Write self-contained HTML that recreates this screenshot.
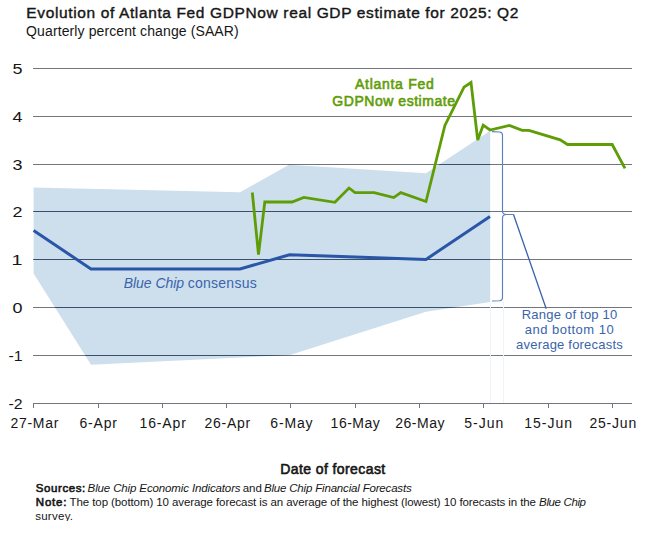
<!DOCTYPE html>
<html><head><meta charset="utf-8">
<style>
html,body{margin:0;padding:0;background:#fff;width:657px;height:534px;overflow:hidden;}
svg{display:block;font-family:"Liberation Sans",sans-serif;}
</style></head>
<body>
<svg width="657" height="534" viewBox="0 0 657 534">
<defs>
<clipPath id="foot"><rect x="0" y="478" width="657" height="43"/></clipPath>
<clipPath id="bandclip"><polygon points="33.6,187.4 240,192.3 289,164.8 426,173.2 490.2,130.8 490.2,302 426,311.8 290,355 91,364.8 33.6,273.5"/></clipPath>
</defs>

<polygon points="33.6,187.4 240,192.3 289,164.8 426,173.2 490.2,130.8 490.2,302 426,311.8 290,355 91,364.8 33.6,273.5" fill="#cddfed"/>
<g stroke="#72757c" stroke-width="1" shape-rendering="crispEdges"><line x1="33" y1="68.5" x2="632" y2="68.5"/><line x1="33" y1="116.5" x2="632" y2="116.5"/><line x1="33" y1="164.5" x2="632" y2="164.5"/><line x1="33" y1="211.5" x2="632" y2="211.5"/><line x1="33" y1="259.5" x2="632" y2="259.5"/><line x1="33" y1="307.5" x2="632" y2="307.5"/><line x1="33" y1="355.5" x2="632" y2="355.5"/><line x1="33" y1="403.5" x2="632" y2="403.5"/><line x1="33.5" y1="403" x2="33.5" y2="408"/><line x1="98.5" y1="403" x2="98.5" y2="408"/><line x1="162.5" y1="403" x2="162.5" y2="408"/><line x1="226.5" y1="403" x2="226.5" y2="408"/><line x1="290.5" y1="403" x2="290.5" y2="408"/><line x1="355.5" y1="403" x2="355.5" y2="408"/><line x1="419.5" y1="403" x2="419.5" y2="408"/><line x1="483.5" y1="403" x2="483.5" y2="408"/><line x1="548.5" y1="403" x2="548.5" y2="408"/><line x1="612.5" y1="403" x2="612.5" y2="408"/></g>
<g stroke="#3a5068" stroke-width="1" shape-rendering="crispEdges" clip-path="url(#bandclip)"><line x1="33" y1="68.5" x2="632" y2="68.5"/><line x1="33" y1="116.5" x2="632" y2="116.5"/><line x1="33" y1="164.5" x2="632" y2="164.5"/><line x1="33" y1="211.5" x2="632" y2="211.5"/><line x1="33" y1="259.5" x2="632" y2="259.5"/><line x1="33" y1="307.5" x2="632" y2="307.5"/><line x1="33" y1="355.5" x2="632" y2="355.5"/><line x1="33" y1="403.5" x2="632" y2="403.5"/></g>
<g stroke="#edf6f6" stroke-width="1" shape-rendering="crispEdges">
<line x1="490.5" y1="303" x2="490.5" y2="403"/>
<line x1="503.5" y1="302" x2="503.5" y2="403"/>
</g>
<polyline points="33.6,230.5 91,269 240,269 289.5,254.7 426,259.4 490,216.5" fill="none" stroke="#2a56a8" stroke-width="3" stroke-linejoin="miter"/>
<polyline points="252.3,192.5 258.5,254.7 264.8,202 292,202 303.8,197.4 334.9,202.3 349,188 355,192.6 374.2,192.6 393.7,197.6 400.8,192.6 426,201.5 444.9,125.4 464,87.2 471,82.5 477.7,140 483.2,125.2 490,130 509.4,125.5 522.2,130.3 528.9,130.3 560.2,139.8 567.5,144.5 612.2,144.5 625,168.4" fill="none" stroke="#5f9d06" stroke-width="2.8" stroke-linejoin="miter" stroke-miterlimit="3"/>
<path d="M492,131.6 L499.5,132 Q502.5,132.2 502.5,135.2 L502.5,211 Q502.5,214.5 506.5,214.5 L513.5,214.5 M506.5,214.5 Q502.5,214.5 502.5,218 L502.5,297.5 Q502.5,300.6 499.5,300.8 L492,301" fill="none" stroke="#5a80bf" stroke-width="1.15"/>
<line x1="513.5" y1="214.5" x2="546.2" y2="308.7" stroke="#3862ac" stroke-width="1.3"/>

<text x="26.30" y="17.90" font-size="15.5" stroke="#161616" stroke-width="0.4" fill="#161616" textLength="492.10" lengthAdjust="spacing">Evolution of Atlanta Fed GDPNow real GDP estimate for 2025: Q2</text>
<text x="26.10" y="35.50" font-size="14" fill="#161616" textLength="212.60" lengthAdjust="spacing">Quarterly percent change (SAAR)</text>
<text x="22.50" y="74.30" font-size="13.8" fill="#161616" text-anchor="end" textLength="10.00" lengthAdjust="spacingAndGlyphs">5</text>
<text x="22.50" y="122.30" font-size="13.8" fill="#161616" text-anchor="end" textLength="10.00" lengthAdjust="spacingAndGlyphs">4</text>
<text x="22.50" y="170.30" font-size="13.8" fill="#161616" text-anchor="end" textLength="10.00" lengthAdjust="spacingAndGlyphs">3</text>
<text x="22.50" y="217.30" font-size="13.8" fill="#161616" text-anchor="end" textLength="10.00" lengthAdjust="spacingAndGlyphs">2</text>
<text x="22.50" y="265.30" font-size="13.8" fill="#161616" text-anchor="end" textLength="11.00" lengthAdjust="spacingAndGlyphs">1</text>
<text x="22.50" y="313.30" font-size="13.8" fill="#161616" text-anchor="end" textLength="10.00" lengthAdjust="spacingAndGlyphs">0</text>
<text x="22.50" y="361.30" font-size="13.8" fill="#161616" text-anchor="end" textLength="14.10" lengthAdjust="spacingAndGlyphs">-1</text>
<text x="22.50" y="409.30" font-size="13.8" fill="#161616" text-anchor="end" textLength="14.10" lengthAdjust="spacingAndGlyphs">-2</text>
<text x="34.45" y="428.20" font-size="14" fill="#161616" text-anchor="middle" textLength="48.00" lengthAdjust="spacing">27-Mar</text>
<text x="98.20" y="428.20" font-size="14" fill="#161616" text-anchor="middle" textLength="37.40" lengthAdjust="spacing">6-Apr</text>
<text x="162.70" y="428.20" font-size="14" fill="#161616" text-anchor="middle" textLength="46.20" lengthAdjust="spacing">16-Apr</text>
<text x="227.35" y="428.20" font-size="14" fill="#161616" text-anchor="middle" textLength="45.80" lengthAdjust="spacing">26-Apr</text>
<text x="291.40" y="428.20" font-size="14" fill="#161616" text-anchor="middle" textLength="42.20" lengthAdjust="spacing">6-May</text>
<text x="355.20" y="428.20" font-size="14" fill="#161616" text-anchor="middle" textLength="49.20" lengthAdjust="spacing">16-May</text>
<text x="419.85" y="428.20" font-size="14" fill="#161616" text-anchor="middle" textLength="49.40" lengthAdjust="spacing">26-May</text>
<text x="483.75" y="428.20" font-size="14" fill="#161616" text-anchor="middle" textLength="39.00" lengthAdjust="spacing">5-Jun</text>
<text x="548.15" y="428.20" font-size="14" fill="#161616" text-anchor="middle" textLength="47.60" lengthAdjust="spacing">15-Jun</text>
<text x="612.85" y="428.20" font-size="14" fill="#161616" text-anchor="middle" textLength="46.80" lengthAdjust="spacing">25-Jun</text>
<text x="394.35" y="88.80" font-size="14" stroke="#5f9d06" stroke-width="0.6" fill="#5f9d06" text-anchor="middle" textLength="78.70" lengthAdjust="spacing">Atlanta Fed</text>
<text x="393.65" y="105.60" font-size="14" stroke="#5f9d06" stroke-width="0.6" fill="#5f9d06" text-anchor="middle" textLength="122.70" lengthAdjust="spacing">GDPNow estimate</text>
<text x="123.80" y="287.70" font-size="14" fill="#3a64ab" textLength="60.20" lengthAdjust="spacing"><tspan font-style="italic">Blue Chip</tspan></text>
<text x="187.70" y="287.70" font-size="14" fill="#3a64ab" textLength="69.00" lengthAdjust="spacing">consensus</text>
<text x="569.50" y="318.90" font-size="13" fill="#3a64ab" text-anchor="middle" textLength="95.60" lengthAdjust="spacing">Range of top 10</text>
<text x="569.20" y="334.10" font-size="13" fill="#3a64ab" text-anchor="middle" textLength="89.00" lengthAdjust="spacing">and bottom 10</text>
<text x="569.40" y="349.20" font-size="13" fill="#3a64ab" text-anchor="middle" textLength="106.60" lengthAdjust="spacing">average forecasts</text>
<text x="280.20" y="473.90" font-size="14" stroke="#161616" stroke-width="0.6" fill="#161616" textLength="105.00" lengthAdjust="spacing">Date of forecast</text>
<g clip-path="url(#foot)"><text x="35.80" y="492.00" font-size="11.5" stroke="#161616" stroke-width="0.6" fill="#161616" textLength="49.50" lengthAdjust="spacing">Sources:</text></g>
<g clip-path="url(#foot)"><text x="87.60" y="492.00" font-size="11.5" fill="#161616" textLength="153.00" lengthAdjust="spacing"><tspan font-style="italic">Blue Chip Economic Indicators</tspan></text></g>
<g clip-path="url(#foot)"><text x="242.70" y="492.00" font-size="11.5" fill="#161616" textLength="19.20" lengthAdjust="spacing">and</text></g>
<g clip-path="url(#foot)"><text x="263.90" y="492.00" font-size="11.5" fill="#161616" textLength="147.80" lengthAdjust="spacing"><tspan font-style="italic">Blue Chip Financial Forecasts</tspan></text></g>
<g clip-path="url(#foot)"><text x="35.80" y="505.60" font-size="11.5" stroke="#161616" stroke-width="0.6" fill="#161616" textLength="30.60" lengthAdjust="spacing">Note:</text></g>
<g clip-path="url(#foot)"><text x="69.60" y="505.60" font-size="11.5" fill="#161616" textLength="466.40" lengthAdjust="spacing">The top (bottom) 10 average forecast is an average of the highest (lowest) 10 forecasts in the</text></g>
<g clip-path="url(#foot)"><text x="539.10" y="505.60" font-size="11.5" fill="#161616" textLength="46.90" lengthAdjust="spacing"><tspan font-style="italic">Blue Chip</tspan></text></g>
<g clip-path="url(#foot)"><text x="35.20" y="520.20" font-size="11.5" fill="#161616" textLength="37.80" lengthAdjust="spacing">survey.</text></g>
</svg>
</body></html>
